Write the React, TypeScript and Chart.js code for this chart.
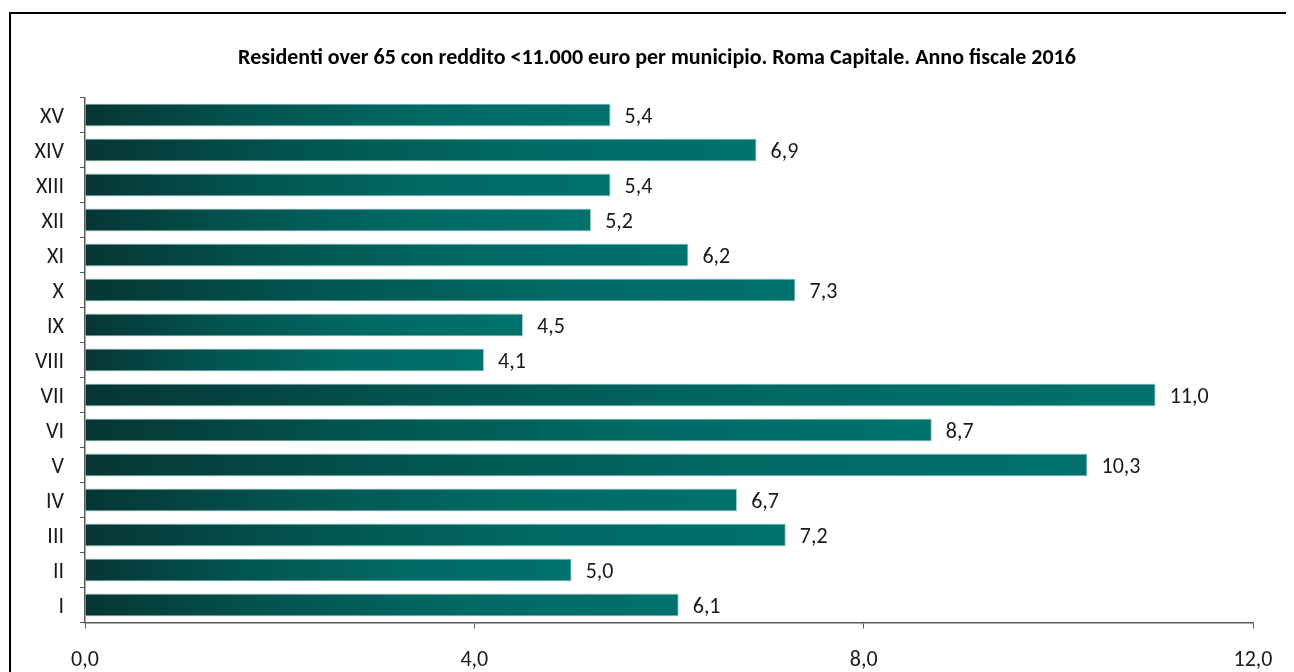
import React, { useEffect, useRef } from "react";
import { Chart, registerables } from "chart.js";

Chart.register(...registerables);

const categories = ["I", "II", "III", "IV", "V", "VI", "VII", "VIII", "IX", "X", "XI", "XII", "XIII", "XIV", "XV"];
const values = [6.1, 5.0, 7.2, 6.7, 10.3, 8.7, 11.0, 4.1, 4.5, 7.3, 6.2, 5.2, 5.4, 6.9, 5.4];
const xTicks = [0, 4, 8, 12];
const titleText = "Residenti over 65 con reddito <11.000 euro per municipio. Roma Capitale. Anno fiscale 2016";

const FONT = "Carlito, 'Liberation Sans Narrow', 'Open Sans', sans-serif";
const fmt = (v: number) => v.toFixed(1).replace(".", ",");

const framePlugin = {
  id: "frame",
  beforeDraw(chart: any) {
    const c = chart.ctx;
    c.save();
    c.fillStyle = "#ffffff";
    c.fillRect(0, 0, chart.width, chart.height);
    c.strokeStyle = "#000000";
    c.lineWidth = 2;
    c.beginPath();
    c.moveTo(chart.width + 10, 5);
    c.lineTo(2, 5);
    c.lineTo(2, chart.height + 10);
    c.stroke();
    c.font = `bold 22px ${FONT}`;
    c.fillStyle = "#000000";
    c.textAlign = "center";
    c.textBaseline = "middle";
    c.fillText(titleText, 649, 50);
    c.restore();
  },
};

const valueLabels = {
  id: "valueLabels",
  afterDatasetsDraw(chart: any) {
    const c = chart.ctx;
    const meta = chart.getDatasetMeta(0);
    c.save();
    c.font = `22px ${FONT}`;
    c.fillStyle = "#1a1a1a";
    c.textAlign = "left";
    c.textBaseline = "middle";
    meta.data.forEach((el: any, i: number) => {
      c.fillText(fmt(values[i]), el.x + 14, el.y + 2);
    });
    c.restore();
  },
};

export default function App() {
  const ref = useRef<HTMLCanvasElement | null>(null);
  useEffect(() => {
    if (!ref.current) return;
    const chart = new Chart(ref.current, {
      type: "bar",
      data: {
        labels: categories,
        datasets: [
          {
            data: values,
            backgroundColor: (ctx: any) => {
              const ch = ctx.chart;
              if (!ch.chartArea) return "#00726d";
              const xs = ch.scales.x;
              const x0 = xs.getPixelForValue(0);
              const x1 = xs.getPixelForValue(values[ctx.dataIndex] ?? 1);
              const g = ch.ctx.createLinearGradient(x0, 0, Math.max(x1, x0 + 1), 0);
              g.addColorStop(0, "#063634");
              g.addColorStop(0.3, "#02534e");
              g.addColorStop(0.65, "#006a65");
              g.addColorStop(1, "#00716c");
              return g;
            },
            borderColor: "#a6cfcb",
            borderWidth: 1,
            categoryPercentage: 1,
            barPercentage: 0.66,
          },
        ],
      },
      options: {
        indexAxis: "y",
        animation: false,
        responsive: false,
        layout: { padding: { left: 0, right: 41, top: 89.5, bottom: 0 } },
        plugins: {
          legend: { display: false },
          tooltip: { enabled: false },
          title: { display: false },
        },
        scales: {
          x: {
            min: 0,
            max: 12,
            afterBuildTicks: (s: any) => {
              s.ticks = xTicks.map((v) => ({ value: v }));
            },
            afterFit: (s: any) => {
              s.height = 49.5;
            },
            grid: { drawOnChartArea: false, drawTicks: true, tickLength: 6, color: "#595959" },
            border: { display: true, color: "#595959", width: 1.5 },
            ticks: {
              color: "#1a1a1a",
              font: { family: FONT, size: 22 },
              padding: 19,
              callback: (v: any) => fmt(Number(v)),
            },
          },
          y: {
            reverse: true,
            afterFit: (s: any) => {
              s.width = 77;
            },
            grid: { drawOnChartArea: false, drawTicks: true, tickLength: 5, color: "#595959", offset: true },
            border: { display: true, color: "#595959", width: 1.5 },
            ticks: {
              color: "#1a1a1a",
              font: { family: FONT, size: 22 },
              padding: 16,
              labelOffset: 2,
            },
          },
        },
      },
      plugins: [framePlugin, valueLabels],
    });
    return () => chart.destroy();
  }, []);
  return <canvas ref={ref} width={1286} height={664} style={{ display: "block" }} />;
}
